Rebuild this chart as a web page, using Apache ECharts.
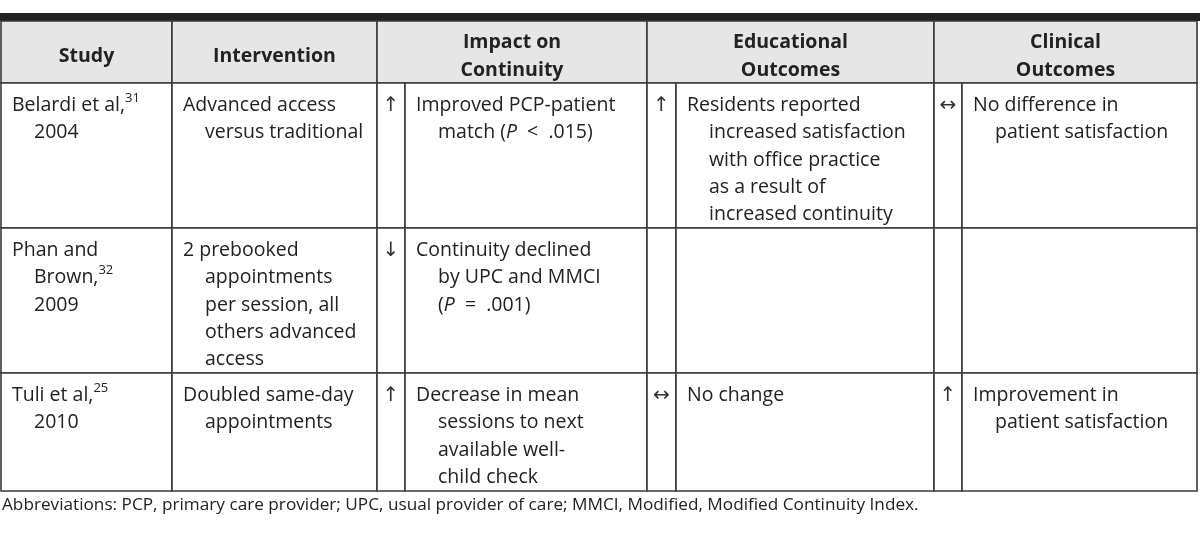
<!DOCTYPE html>
<html><head><meta charset="utf-8">
<script src="https://cdn.jsdelivr.net/npm/echarts@6/dist/echarts.min.js"></script>
<style>html,body{margin:0;padding:0;background:#fff}#c{width:1200px;height:533px}</style>
</head><body><div id="c"></div>
<script>
// ---- table content ----
const headers = [["Study"], ["Intervention"], ["Impact on", "Continuity"], ["Educational", "Outcomes"], ["Clinical", "Outcomes"]];
const studies = [["Belardi et al,{sup|31}", "2004"], ["Phan and", "Brown,{sup|32}", "2009"], ["Tuli et al,{sup|25}", "2010"]];
const interventions = [["Advanced access", "versus traditional"], ["2 prebooked", "appointments", "per session, all", "others advanced", "access"], ["Doubled same-day", "appointments"]];
const continuityArrows = ["↑", "↓", "↑"];
const continuityText = [["Improved PCP-patient", "match ({it|P}  <  .015)"], ["Continuity declined", "by UPC and MMCI", "({it|P}  =  .001)"], ["Decrease in mean", "sessions to next", "available well-", "child check"]];
const eduArrows = ["↑", "", "↔"];
const eduText = [["Residents reported", "increased satisfaction", "with office practice", "as a result of", "increased continuity"], [], ["No change"]];
const clinArrows = ["↔", "", "↑"];
const clinText = [["No difference in", "patient satisfaction"], [], ["Improvement in", "patient satisfaction"]];
const footnote = "Abbreviations: PCP, primary care provider; UPC, usual provider of care; MMCI, Modified, Modified Continuity Index.";

// ---- layout ----
const FONT = '"Open Sans", "DejaVu Sans", sans-serif';
const FS = 19.5;
const colEdges = [1, 172, 377, 405, 647, 676, 934, 962, 1197];
const rowEdges = [21, 83, 228, 373, 491];
const headerSpans = [[0, 1], [1, 2], [2, 4], [4, 6], [6, 8]];
const PAD = 11, INDENT = 22, LINE_H = 27.3, FIRST = 22.5;

const cells = [];
cells.push({ kind: 'bar' });
headers.forEach((h, i) => cells.push({ kind: 'head', c0: headerSpans[i][0], c1: headerSpans[i][1], r: 0, lines: h }));
for (let r = 0; r < studies.length; r++) {
  const row = r + 1;
  cells.push({ kind: 'text', c0: 0, c1: 1, r: row, lines: studies[r] });
  cells.push({ kind: 'text', c0: 1, c1: 2, r: row, lines: interventions[r] });
  cells.push({ kind: 'arrow', c0: 2, c1: 3, r: row, lines: [continuityArrows[r]] });
  cells.push({ kind: 'text', c0: 3, c1: 4, r: row, lines: continuityText[r] });
  cells.push({ kind: 'arrow', c0: 4, c1: 5, r: row, lines: [eduArrows[r]] });
  cells.push({ kind: 'text', c0: 5, c1: 6, r: row, lines: eduText[r] });
  cells.push({ kind: 'arrow', c0: 6, c1: 7, r: row, lines: [clinArrows[r]] });
  cells.push({ kind: 'text', c0: 7, c1: 8, r: row, lines: clinText[r] });
}

const rich = {
  sup: { fontSize: 13, fontFamily: FONT, fill: '#222', color: '#222', padding: [0, 0, 15, 0] },
  it: { fontSize: FS, fontFamily: FONT, fontStyle: 'italic', fill: '#222', color: '#222' }
};

function renderItem(params, api) {
  const cell = cells[params.dataIndex];
  if (cell.kind === 'bar') {
    const a = api.coord([0, 13]), b = api.coord([1200, 21]);
    return { type: 'rect', shape: { x: a[0], y: a[1], width: b[0] - a[0], height: b[1] - a[1] }, style: { fill: '#231f20' } };
  }
  const x0 = colEdges[cell.c0], x1 = colEdges[cell.c1];
  const y0 = rowEdges[cell.r], y1 = rowEdges[cell.r + 1];
  const p0 = api.coord([x0, y0]), p1 = api.coord([x1, y1]);
  const children = [{
    type: 'rect',
    shape: { x: p0[0], y: p0[1], width: p1[0] - p0[0], height: p1[1] - p0[1] },
    style: { fill: cell.kind === 'head' ? '#e6e6e6' : '#ffffff', stroke: '#3a3a3a', lineWidth: 1.6 }
  }];
  if (cell.kind === 'head') {
    const n = cell.lines.length;
    const cy = (y0 + y1) / 2 + 4.5;
    cell.lines.forEach((t, i) => {
      const p = api.coord([(x0 + x1) / 2, cy + (i - (n - 1) / 2) * LINE_H]);
      children.push({ type: 'text', x: p[0], y: p[1], style: { text: t, fontSize: FS, fontWeight: 'bold', fontFamily: FONT, fill: '#222', align: 'center', verticalAlign: 'middle' } });
    });
  } else if (cell.kind === 'arrow') {
    const p = api.coord([(x0 + x1) / 2, y0 + FIRST]);
    children.push({ type: 'text', x: p[0], y: p[1], style: { text: cell.lines[0], fontSize: 20, fontFamily: '"DejaVu Sans", sans-serif', fill: '#333', align: 'center', verticalAlign: 'middle' } });
  } else {
    cell.lines.forEach((t, i) => {
      const p = api.coord([x0 + PAD + (i > 0 ? INDENT : 0), y0 + FIRST + i * LINE_H]);
      children.push({ type: 'text', x: p[0], y: p[1], style: { text: t, rich: rich, fontSize: FS, fontFamily: FONT, fill: '#222', align: 'left', verticalAlign: 'middle' } });
    });
  }
  return { type: 'group', children };
}

const chart = echarts.init(document.getElementById('c'), null, { renderer: 'canvas' });
chart.setOption({
  animation: false,
  grid: { left: 0, right: 0, top: 0, bottom: 0 },
  xAxis: { type: 'value', min: 0, max: 1200, show: false },
  yAxis: { type: 'value', min: 0, max: 533, inverse: true, show: false },
  title: { text: footnote, left: -3, top: 492, textStyle: { fontSize: 17.2, fontWeight: 'normal', fontFamily: FONT, color: '#222' } },
  series: [{
    type: 'custom',
    renderItem: renderItem,
    data: cells.map((c, i) => [i]),
    silent: true,
    clip: false
  }]
});
</script></body></html>
